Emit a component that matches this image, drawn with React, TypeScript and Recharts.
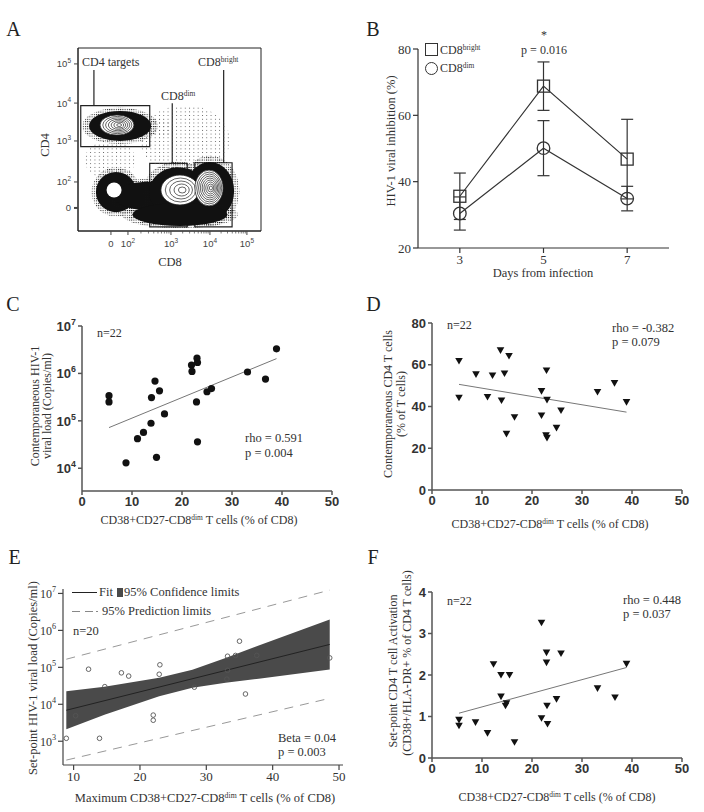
import React from 'react';
import {
  ComposedChart, ScatterChart, Scatter, Line, Area, XAxis, YAxis, ErrorBar, ReferenceArea, ReferenceLine,
} from 'recharts';

const SERIF = '"Liberation Serif", "Times New Roman", serif';
const SANS = '"Liberation Sans", Arial, sans-serif';
const INK = '#333';
const AXIS = '#444';

// ---------- A: flow cytometry (display units 0-100 on the biexponential scale)
const flowTickX = [18.0, 27.3, 50.8, 72.1, 92.3];
const flowTickY = [12.6, 26.8, 49.2, 69.9, 91.3];
const flowExp = [null, 2, 3, 4, 5];
const flowMinorX = [
  34.4, 38.5, 41.4, 43.7, 45.6, 47.2, 48.5, 49.7,
  57.2, 61.0, 63.6, 65.7, 67.4, 68.8, 70.0, 71.1,
  78.2, 81.7, 84.3, 86.2, 87.8, 89.2, 90.3, 91.4,
];
// population centres and spreads
const flowClouds = [
  { x: 23.0, y: 57.4, sx: 17.0, sy: 8.2 },
  { x: 20.8, y: 21.3, sx: 11.0, sy: 11.0 },
  { x: 39.3, y: 19.1, sx: 20.0, sy: 7.8 },
  { x: 54.6, y: 21.3, sx: 15.8, sy: 13.6 },
  { x: 72.1, y: 21.9, sx: 13.2, sy: 15.8 },
  { x: 55.7, y: 9.0, sx: 26.0, sy: 6.2 },
];
const flowHaze = [
  { x: 58.5, y: 49.7, sx: 24.6, sy: 19.1 },
  { x: 17.5, y: 38.8, sx: 13.7, sy: 10.9 },
  { x: 42.0, y: 56.3, sx: 12.0, sy: 5.0 },
];
const flowContours = [
  { x: 21.3, y: 57.9, sx: 9.3, sy: 5.5, rings: 7 },
  { x: 19.7, y: 22.4, sx: 4.1, sy: 4.1, rings: 0 },
  { x: 55.7, y: 22.4, sx: 10.4, sy: 8.2, rings: 5 },
  { x: 71.6, y: 23.5, sx: 7.7, sy: 9.8, rings: 9 },
];
const flowGates = [
  { x1: 1.5, x2: 39.2, y1: 46.1, y2: 68.5 },
  { x1: 39.2, x2: 59.7, y1: 2.3, y2: 37.0 },
  { x1: 63.8, x2: 84.2, y1: 2.3, y2: 37.3 },
];
const flowLeaders = [
  { x: 8.7, y1: 88.0, y2: 68.5 },
  { x: 51.5, y1: 69.8, y2: 37.0 },
  { x: 79.6, y1: 88.0, y2: 37.3 },
];

// ---------- B
const days = [3, 5, 7];
const brightMean = [35.6, 68.8, 46.8];
const brightErr = [7.0, 7.3, 12.0];
const dimMean = [30.4, 50.1, 34.9];
const dimErr = [5.0, 8.3, 3.7];

// ---------- C
const cX = [5.4, 5.4, 8.8, 11.1, 12.3, 13.8, 13.9, 14.6, 14.9, 15.5, 16.5, 21.9, 22.0, 23.0, 23.1, 22.9, 23.1, 25.0, 25.9, 33.1, 36.7, 38.9];
const cLoad = [3.4e5, 2.5e5, 1.3e4, 4.2e4, 5.7e4, 8.9e4, 3.1e5, 6.9e5, 1.7e4, 4.3e5, 1.4e5, 1.5e6, 1.1e6, 2.1e6, 1.7e6, 2.5e5, 3.6e4, 4.1e5, 4.8e5, 1.07e6, 7.6e5, 3.3e6];
const cFitX = [5.4, 38.9];
const cFitY = [7.2e4, 2.05e6];

// ---------- D
const dX = [5.4, 5.4, 8.8, 12.1, 11.1, 13.7, 15.4, 14.5, 13.9, 16.5, 14.9, 22.9, 21.9, 23.0, 21.9, 22.8, 23.0, 24.9, 25.8, 33.1, 36.5, 38.9];
const dCd4 = [61.8, 44.2, 55.4, 54.9, 44.6, 66.9, 64.2, 55.8, 42.9, 34.9, 26.9, 57.3, 47.4, 43.2, 35.7, 26.2, 25.0, 29.8, 38.1, 47.0, 51.2, 42.1];
const dFitX = [5.4, 38.9];
const dFitY = [50.6, 37.3];

// ---------- E
const eX = [8.9, 10.3, 12.25, 13.9, 14.7, 17.2, 18.3, 22.0, 22.0, 23.0, 22.9, 28.2, 33.2, 33.2, 33.1, 34.4, 35.0, 35.9, 37.6, 48.6];
const eLoad = [1.2e3, 4.9e3, 8.9e4, 1.2e3, 3.0e4, 7.1e4, 5.8e4, 5.1e3, 3.7e3, 1.17e5, 6.5e4, 2.9e4, 2.0e5, 8.3e4, 4.8e4, 2.1e5, 5.1e5, 1.9e4, 2.1e5, 1.8e5];
const eFitX = [8.9, 48.6];
const eFitY = [6.9e3, 4.17e5];
const eBandX = [8.9, 14.65, 22.9, 27.9, 32.9, 37.9, 48.6];
const eBandLo = [2.12e3, 5.2e3, 1.64e4, 2.8e4, 3.8e4, 4.9e4, 8.8e4];
const eBandHi = [2.26e4, 3.0e4, 5.26e4, 8.6e4, 1.78e5, 3.9e5, 1.98e6];
const ePredX = [8.9, 48.6];
const ePredHi = [1.66e5, 1.23e7];
const ePredLo = [309, 1.45e4];

// ---------- F
const fX = [5.4, 5.4, 8.7, 11.1, 12.3, 13.8, 13.8, 14.7, 14.9, 15.5, 16.5, 21.9, 21.9, 22.9, 22.9, 23.0, 23.1, 24.9, 25.8, 33.1, 36.6, 38.9];
const fAct = [0.92, 0.78, 0.86, 0.60, 2.26, 2.00, 1.48, 1.26, 1.32, 2.00, 0.38, 3.26, 0.96, 2.54, 2.30, 1.26, 0.82, 1.42, 2.52, 1.68, 1.46, 2.27];
const fFitX = [5.4, 38.9];
const fFitY = [1.08, 2.18];

const pts = (xs: number[], ys: number[]) => xs.map((x, i) => ({ x, y: ys[i] }));
const bTable = days.map((d, i) => ({ day: d, bright: brightMean[i], brightErr: brightErr[i], dim: dimMean[i], dimErr: dimErr[i] }));
const eBand = eBandX.map((x, i) => ({ x, band: [eBandLo[i], eBandHi[i]] }));

const PXA = 1.83; // px per display unit in panel A

function Cloud(p: any) {
  const { cx, cy, payload } = p;
  const rx = payload.sx * PXA;
  const ry = payload.sy * PXA;
  return (
    <g>
      <ellipse cx={cx} cy={cy} rx={rx * 1.22} ry={ry * 1.22} fill="url(#speckDense)" />
      <ellipse cx={cx} cy={cy} rx={rx} ry={ry} fill="#111" />
    </g>
  );
}
function Haze(p: any) {
  const { cx, cy, payload } = p;
  return <ellipse cx={cx} cy={cy} rx={payload.sx * PXA} ry={payload.sy * PXA} fill="url(#speckSparse)" />;
}
function Contour(p: any) {
  const { cx, cy, payload } = p;
  const rx = payload.sx * PXA;
  const ry = payload.sy * PXA;
  const rings = [];
  for (let i = 1; i < payload.rings; i++) {
    const f = 1 - i / payload.rings;
    rings.push(
      <ellipse key={i} cx={cx + (1 - f) * rx * 0.15} cy={cy} rx={rx * f} ry={ry * f} fill="none" stroke="#222" strokeWidth={0.7} />,
    );
  }
  return (
    <g>
      <ellipse cx={cx} cy={cy} rx={rx} ry={ry} fill="#fff" stroke={payload.rings ? '#222' : 'none'} strokeWidth={0.8} />
      {rings}
    </g>
  );
}

function Pow({ exp, size }: { exp: number | null; size: number }) {
  if (exp === null) return <tspan>0</tspan>;
  return (
    <>
      <tspan>10</tspan>
      <tspan dy={-size * 0.45} fontSize={size * 0.68}>{exp}</tspan>
    </>
  );
}

function FlowXTick({ x, y, payload }: any) {
  const i = flowTickX.indexOf(payload.value);
  if (i < 0) return <line x1={x} x2={x} y1={y} y2={y + 2.5} stroke={AXIS} strokeWidth={0.7} />;
  return (
    <g>
      <line x1={x} x2={x} y1={y} y2={y + 4} stroke={AXIS} strokeWidth={1} />
      <text x={x} y={y + 16} textAnchor="middle" fontFamily={SANS} fontSize={9.5} fill="#444">
        <Pow exp={flowExp[i]} size={9.5} />
      </text>
    </g>
  );
}
function FlowYTick({ x, y, payload }: any) {
  const i = flowTickY.indexOf(payload.value);
  return (
    <g>
      <line x1={x} x2={x - 4} y1={y} y2={y} stroke={AXIS} strokeWidth={i === 0 ? 2 : 1} />
      <text x={x - 7} y={y + 3.5} textAnchor="end" fontFamily={SANS} fontSize={9.5} fill="#444">
        <Pow exp={flowExp[i]} size={9.5} />
      </text>
    </g>
  );
}
function LogYTick({ x, y, payload, font, size, weight }: any) {
  const e = Math.round(Math.log10(payload.value));
  return (
    <text x={x} y={y} dy="0.36em" textAnchor="end" fontFamily={font} fontSize={size} fontWeight={weight} fill={INK}>
      <Pow exp={e} size={size} />
    </text>
  );
}

const Square = (p: any) => (
  <rect key={`s${p.index}`} x={p.cx - 6} y={p.cy - 6} width={12} height={12} fill="none" stroke="#333" strokeWidth={1.3} />
);
const Ring = (p: any) => <circle key={`c${p.index}`} cx={p.cx} cy={p.cy} r={6.3} fill="none" stroke="#333" strokeWidth={1.3} />;
const Dot = (p: any) => <circle cx={p.cx} cy={p.cy} r={3.6} fill="#111" />;
const OpenDot = (p: any) => <circle cx={p.cx} cy={p.cy} r={2.3} fill="none" stroke="#555" strokeWidth={0.9} />;
const Tri = (p: any) => (
  <path d={`M${p.cx - 3.8},${p.cy - 3} L${p.cx + 3.8},${p.cy - 3} L${p.cx},${p.cy + 3.6} Z`} fill="#111" />
);
const Nothing = () => <g />;

type TProps = {
  x: number; y: number; children: React.ReactNode; size?: number; anchor?: 'start' | 'middle';
  rot?: boolean; color?: string; font?: string;
};
function T({ x, y, children, size = 12.5, anchor = 'middle', rot = false, color = INK, font = SERIF }: TProps) {
  const tx = anchor === 'middle' ? '-50%' : '0';
  return (
    <div
      style={{
        position: 'absolute', left: x, top: y, fontFamily: font, fontSize: size, color, lineHeight: 1,
        whiteSpace: 'nowrap', transform: `translate(${tx},-50%)${rot ? ' rotate(-90deg)' : ''}`,
      }}
    >
      {children}
    </div>
  );
}
const Sup = ({ children }: { children: React.ReactNode }) => (
  <span style={{ fontSize: '0.62em', position: 'relative', top: '-0.55em' }}>{children}</span>
);

const axisStyle = { stroke: '#555', strokeWidth: 1.5 };
const boldTick = { fontFamily: SANS, fontWeight: 700, fontSize: 13, fill: INK };
const serifTick = { fontFamily: SERIF, fontSize: 13, fill: INK };
const pctTicks = [0, 10, 20, 30, 40, 50];

export default function App() {
  return (
    <div style={{ position: 'absolute', left: 0, top: 0, width: 704, height: 812, background: '#fff', overflow: 'hidden' }}>
      <svg width={0} height={0} style={{ position: 'absolute' }}>
        <defs>
          <pattern id="speckDense" width={2.2} height={2.4} patternUnits="userSpaceOnUse">
            <rect width={1} height={1} fill="#111" />
          </pattern>
          <pattern id="speckSparse" width={4.3} height={3.7} patternUnits="userSpaceOnUse">
            <rect width={0.9} height={0.9} fill="#555" />
          </pattern>
        </defs>
      </svg>

      {/* ---------------- A ---------------- */}
      <div style={{ position: 'absolute', left: 30, top: 30 }}>
        <ScatterChart width={240} height={230} margin={{ top: 18, right: 9, bottom: 4, left: 8 }}>
          <XAxis
            dataKey="x" type="number" domain={[0, 100]} ticks={[...flowTickX, ...flowMinorX]}
            height={25} tickSize={0} tickMargin={0} tickLine={false} axisLine={{ stroke: '#222' }}
            tick={<FlowXTick />} interval={0}
          />
          <YAxis
            dataKey="y" type="number" domain={[0, 100]} ticks={flowTickY} width={40}
            tickSize={0} tickMargin={0} tickLine={false} axisLine={{ stroke: '#222' }} tick={<FlowYTick />} interval={0}
          />
          <Scatter data={flowHaze} shape={Haze} isAnimationActive={false} />
          <Scatter data={flowClouds} shape={Cloud} isAnimationActive={false} />
          <Scatter data={flowContours} shape={Contour} isAnimationActive={false} />
          {flowGates.map((g, i) => (
            <ReferenceArea key={i} x1={g.x1} x2={g.x2} y1={g.y1} y2={g.y2} fill="none" stroke="#222" strokeWidth={1.2} ifOverflow="visible" />
          ))}
          {flowLeaders.map((l, i) => (
            <ReferenceLine key={i} segment={[{ x: l.x, y: l.y1 }, { x: l.x, y: l.y2 }]} stroke="#222" strokeWidth={1.2} />
          ))}
          <ReferenceArea x1={0} x2={100} y1={0} y2={100} fill="none" stroke="#222" strokeWidth={1} ifOverflow="visible" />
        </ScatterChart>
      </div>
      <T x={82} y={62} anchor="start" size={12}>CD4 targets</T>
      <T x={161} y={96} anchor="start" size={12}>CD8<Sup>dim</Sup></T>
      <T x={198} y={62} anchor="start" size={12}>CD8<Sup>bright</Sup></T>
      <T x={45} y={145} rot>CD4</T>
      <T x={170} y={262}>CD8</T>

      {/* ---------------- B ---------------- */}
      <div style={{ position: 'absolute', left: 360, top: 20 }}>
        <ComposedChart width={330} height={265} data={bTable} margin={{ top: 29, right: 21, bottom: 17, left: 18 }}>
          <XAxis
            dataKey="day" type="number" domain={[2, 8]} ticks={days} height={20} tickSize={5}
            axisLine={{ stroke: '#333', strokeWidth: 1.2 }} tickLine={{ stroke: '#333', strokeWidth: 1.2 }} tick={serifTick}
          />
          <YAxis
            type="number" domain={[20, 80]} ticks={[20, 40, 60, 80]} width={40} tickSize={5}
            axisLine={{ stroke: '#333', strokeWidth: 1.2 }} tickLine={{ stroke: '#333', strokeWidth: 1.2 }} tick={serifTick}
          />
          <Line dataKey="bright" stroke="#333" strokeWidth={1.2} dot={Square} activeDot={false} isAnimationActive={false}>
            <ErrorBar dataKey="brightErr" width={6} stroke="#333" strokeWidth={1.2} isAnimationActive={false} />
          </Line>
          <Line dataKey="dim" stroke="#333" strokeWidth={1.2} dot={Ring} activeDot={false} isAnimationActive={false}>
            <ErrorBar dataKey="dimErr" width={6} stroke="#333" strokeWidth={1.2} isAnimationActive={false} />
          </Line>
        </ComposedChart>
      </div>
      <div style={{ position: 'absolute', left: 425, top: 43, width: 11, height: 11, border: '1.3px solid #333' }} />
      <div style={{ position: 'absolute', left: 424.5, top: 61.5, width: 11, height: 11, border: '1.3px solid #333', borderRadius: '50%' }} />
      <T x={440} y={50} anchor="start" size={12}>CD8<Sup>bright</Sup></T>
      <T x={440} y={68} anchor="start" size={12}>CD8<Sup>dim</Sup></T>
      <T x={544} y={35} size={12}>*</T>
      <T x={544} y={50} size={12}>p = 0.016</T>
      <T x={391} y={141} rot>HIV-1 viral inhibition (%)</T>
      <T x={543} y={273}>Days from infection</T>

      {/* ---------------- C ---------------- */}
      <div style={{ position: 'absolute', left: 15, top: 310 }}>
        <ScatterChart width={330} height={211} margin={{ top: 16, right: 13, bottom: 5, left: 25 }}>
          <XAxis
            dataKey="x" type="number" domain={[0, 50]} ticks={pctTicks} height={25} tickSize={4}
            axisLine={axisStyle} tickLine={axisStyle} tick={boldTick}
          />
          <YAxis
            dataKey="y" type="number" scale="log" domain={[Math.pow(10, 3.52), 1e7]} allowDataOverflow
            ticks={[1e4, 1e5, 1e6, 1e7]} width={42} tickSize={4} axisLine={axisStyle} tickLine={axisStyle}
            tick={<LogYTick font={SANS} size={13} weight={700} />}
          />
          <Scatter data={pts(cFitX, cFitY)} line={{ stroke: '#777', strokeWidth: 1 }} shape={Nothing} isAnimationActive={false} />
          <Scatter data={pts(cX, cLoad)} shape={Dot} isAnimationActive={false} />
        </ScatterChart>
      </div>
      <T x={97} y={333} anchor="start" size={12}>n=22</T>
      <T x={245} y={438} anchor="start" size={12.5}>rho = 0.591</T>
      <T x={245} y={453} anchor="start" size={12.5}>p = 0.004</T>
      <T x={35} y={406} rot size={12}>Contemporaneous HIV-1</T>
      <T x={47} y={406} rot size={12}>viral load (Copies/ml)</T>
      <T x={199} y={520} size={12}>CD38+CD27-CD8<Sup>dim</Sup> T cells (% of CD8)</T>

      {/* ---------------- D ---------------- */}
      <div style={{ position: 'absolute', left: 375, top: 310 }}>
        <ScatterChart width={320} height={210} margin={{ top: 13, right: 13, bottom: 5, left: 17 }}>
          <XAxis
            dataKey="x" type="number" domain={[0, 50]} ticks={pctTicks} height={25} tickSize={4}
            axisLine={axisStyle} tickLine={axisStyle} tick={boldTick}
          />
          <YAxis
            dataKey="y" type="number" domain={[0, 80]} ticks={[0, 20, 40, 60, 80]} width={40} tickSize={4}
            axisLine={axisStyle} tickLine={axisStyle} tick={boldTick}
          />
          <Scatter data={pts(dFitX, dFitY)} line={{ stroke: '#777', strokeWidth: 1 }} shape={Nothing} isAnimationActive={false} />
          <Scatter data={pts(dX, dCd4)} shape={Tri} isAnimationActive={false} />
        </ScatterChart>
      </div>
      <T x={447} y={325} anchor="start" size={12}>n=22</T>
      <T x={612} y={328} anchor="start" size={12.5}>rho = -0.382</T>
      <T x={612} y={342} anchor="start" size={12.5}>p = 0.079</T>
      <T x={388} y={404} rot size={12}>Contemporaneous CD4 T cells</T>
      <T x={401} y={404} rot size={12}>(% of T cells)</T>
      <T x={550} y={524} size={12}>CD38+CD27-CD8<Sup>dim</Sup> T cells (% of CD8)</T>

      {/* ---------------- E ---------------- */}
      <div style={{ position: 'absolute', left: 0, top: 580 }}>
        <ComposedChart width={355} height={215} margin={{ top: 9, right: 12, bottom: 5, left: 23 }}>
          <XAxis
            dataKey="x" type="number" domain={[8.4, 50.6]} allowDataOverflow ticks={[10, 20, 30, 40, 50]} height={25}
            tickSize={5} axisLine={{ stroke: '#444', strokeWidth: 1.2 }} tickLine={{ stroke: '#444', strokeWidth: 1.2 }}
            tick={serifTick}
          />
          <YAxis
            dataKey="y" type="number" scale="log" domain={[Math.pow(10, 2.357), Math.pow(10, 7.12)]} allowDataOverflow
            ticks={[1e3, 1e4, 1e5, 1e6, 1e7]} width={40} tickSize={5}
            axisLine={{ stroke: '#444', strokeWidth: 1.2 }} tickLine={{ stroke: '#444', strokeWidth: 1.2 }}
            tick={<LogYTick font={SERIF} size={12} weight={400} />}
          />
          <Area data={eBand} dataKey="band" stroke="none" fill="#4a4a4a" fillOpacity={1} isAnimationActive={false} activeDot={false} />
          <Line data={pts(ePredX, ePredHi)} dataKey="y" stroke="#999" strokeWidth={1} strokeDasharray="9 7" dot={false} activeDot={false} isAnimationActive={false} />
          <Line data={pts(ePredX, ePredLo)} dataKey="y" stroke="#999" strokeWidth={1} strokeDasharray="9 7" dot={false} activeDot={false} isAnimationActive={false} />
          <Line data={pts(eFitX, eFitY)} dataKey="y" stroke="#222" strokeWidth={1} dot={false} activeDot={false} isAnimationActive={false} />
          <Scatter data={pts(eX, eLoad)} shape={OpenDot} isAnimationActive={false} />
        </ComposedChart>
      </div>
      <div style={{ position: 'absolute', left: 72, top: 591.5, width: 25, height: 1.5, background: '#222' }} />
      <T x={99} y={592} anchor="start">Fit</T>
      <div style={{ position: 'absolute', left: 116.5, top: 588, width: 6, height: 9, background: '#4a4a4a' }} />
      <T x={124} y={592} anchor="start">95% Confidence limits</T>
      <div style={{ position: 'absolute', left: 72, top: 610.5, width: 8, height: 1.5, background: '#888' }} />
      <div style={{ position: 'absolute', left: 85, top: 610.5, width: 8, height: 1.5, background: '#888' }} />
      <div style={{ position: 'absolute', left: 96, top: 610.5, width: 2, height: 1.5, background: '#888' }} />
      <T x={102} y={611} anchor="start">95% Prediction limits</T>
      <T x={73} y={631} anchor="start">n=20</T>
      <T x={278} y={738} anchor="start">Beta = 0.04</T>
      <T x={278} y={752} anchor="start">p = 0.003</T>
      <T x={33} y={678} rot>Set-point HIV-1 viral load (Copies/ml)</T>
      <T x={205} y={798}>Maximum CD38+CD27-CD8<Sup>dim</Sup> T cells (% of CD8)</T>

      {/* ---------------- F ---------------- */}
      <div style={{ position: 'absolute', left: 375, top: 580 }}>
        <ScatterChart width={320} height={208} margin={{ top: 12, right: 13, bottom: 5, left: 17 }}>
          <XAxis
            dataKey="x" type="number" domain={[0, 50]} ticks={pctTicks} height={25} tickSize={4}
            axisLine={axisStyle} tickLine={axisStyle} tick={boldTick}
          />
          <YAxis
            dataKey="y" type="number" domain={[0, 4]} ticks={[0, 1, 2, 3, 4]} width={40} tickSize={4}
            axisLine={axisStyle} tickLine={axisStyle} tick={boldTick}
          />
          <Scatter data={pts(fFitX, fFitY)} line={{ stroke: '#777', strokeWidth: 1 }} shape={Nothing} isAnimationActive={false} />
          <Scatter data={pts(fX, fAct)} shape={Tri} isAnimationActive={false} />
        </ScatterChart>
      </div>
      <T x={447} y={601} anchor="start" size={12}>n=22</T>
      <T x={623} y={600} anchor="start" size={12.5}>rho = 0.448</T>
      <T x={623} y={614} anchor="start" size={12.5}>p = 0.037</T>
      <T x={393} y={671} rot size={12}>Set-point CD4 T cell Activation</T>
      <T x={407} y={663} rot size={12}>(CD38+/HLA-DR+ % of CD4 T cells)</T>
      <T x={557} y={797} size={12}>CD38+CD27-CD8<Sup>dim</Sup> T cells (% of CD8)</T>

      {/* panel letters */}
      <T x={13.5} y={28.5} size={20} color="#222">A</T>
      <T x={373} y={28.5} size={20} color="#222">B</T>
      <T x={13} y={304} size={20} color="#222">C</T>
      <T x={373.5} y={304} size={20} color="#222">D</T>
      <T x={14.5} y={557} size={20} color="#222">E</T>
      <T x={373} y={557} size={20} color="#222">F</T>
    </div>
  );
}
